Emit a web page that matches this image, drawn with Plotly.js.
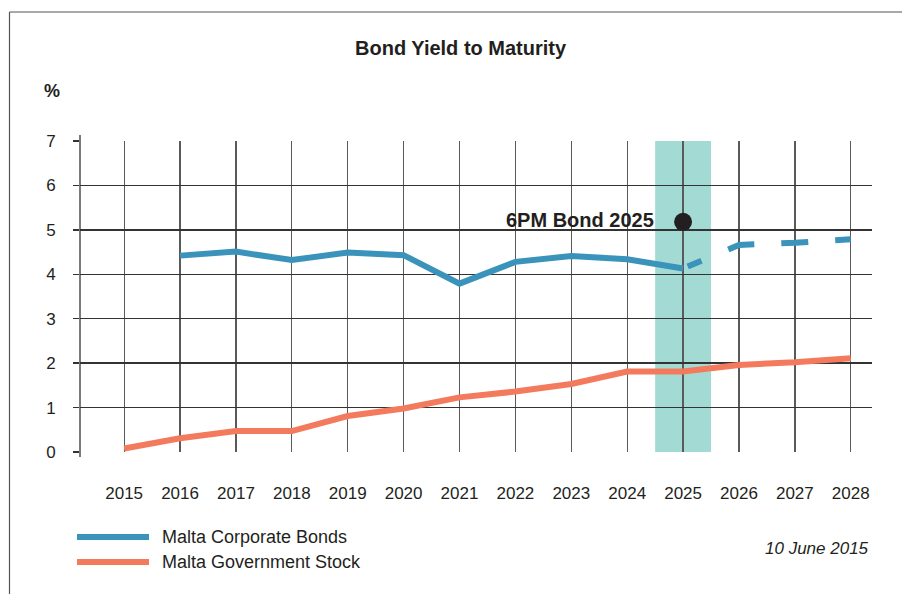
<!DOCTYPE html>
<html>
<head>
<meta charset="utf-8">
<script src="https://cdn.plot.ly/plotly-3.0.1.min.js"></script>
<style>
  html, body { margin: 0; padding: 0; background: #fff; }
  #chart { width: 902px; height: 594px; }
</style>
</head>
<body>
<div id="chart"></div>
<script>
// ---- data ----
var tickYears = [2015, 2016, 2017, 2018, 2019, 2020, 2021, 2022, 2023, 2024, 2025, 2026, 2027, 2028];
var corporateYears = [2016, 2017, 2018, 2019, 2020, 2021, 2022, 2023, 2024, 2025];
var corporateValues = [4.42, 4.51, 4.32, 4.49, 4.43, 3.79, 4.28, 4.41, 4.34, 4.13];
var projectedYears = [2025, 2026, 2027, 2028];
var projectedValues = [4.13, 4.66, 4.71, 4.79];
var governmentYears = [2015, 2016, 2017, 2018, 2019, 2020, 2021, 2022, 2023, 2024, 2025, 2026, 2027, 2028];
var governmentValues = [0.08, 0.31, 0.47, 0.47, 0.81, 0.98, 1.23, 1.36, 1.53, 1.81, 1.81, 1.96, 2.02, 2.11];
var bondYear = [2025];
var bondValue = [5.18];
var bondLabel = '6PM Bond 2025';
var seriesNames = ['Malta Corporate Bonds', 'Malta Government Stock'];
var chartTitle = 'Bond Yield to Maturity';
var unitLabel = '%';
var dateLabel = '10 June 2015';

var BLUE = '#3a93ba';
var RED = '#f47a5d';
var BAND = '#a3dbd4';
var TXT = '#231f20';
var FONT = 'Liberation Sans, Arial, Helvetica, sans-serif';

var traces = [
  {
    x: corporateYears, y: corporateValues, type: 'scatter', mode: 'lines',
    line: { color: BLUE, width: 6 }, name: seriesNames[0], hoverinfo: 'x+y'
  },
  {
    x: projectedYears, y: projectedValues, type: 'scatter', mode: 'lines',
    line: { color: BLUE, width: 6, dash: '0px,5px,15px,29px,27px,27px,27px,27px,40px' },
    name: seriesNames[0], showlegend: false, hoverinfo: 'x+y'
  },
  {
    x: governmentYears, y: governmentValues, type: 'scatter', mode: 'lines',
    line: { color: RED, width: 6 }, name: seriesNames[1], hoverinfo: 'x+y'
  },
  {
    x: bondYear, y: bondValue, type: 'scatter', mode: 'markers',
    marker: { color: TXT, size: 18 }, name: bondLabel, hoverinfo: 'x+y'
  }
];

// paper helpers: plot area spans x 80..872 px, y 141..452 px
function px(x) { return (x - 80) / 792; }
function py(y) { return (452 - y) / 311; }

var layout = {
  width: 902, height: 594,
  margin: { l: 80, r: 30, t: 141, b: 142 },
  paper_bgcolor: '#ffffff', plot_bgcolor: '#ffffff',
  showlegend: false,
  font: { family: FONT, color: TXT, size: 17 },
  xaxis: {
    range: [2014.21, 2028.38],
    tickmode: 'array', tickvals: tickYears, ticktext: tickYears.map(String),
    showgrid: true, gridcolor: '#5a5a5a', gridwidth: 1.3,
    zeroline: false, showline: false,
    ticks: 'outside', ticklen: 26, tickcolor: 'rgba(0,0,0,0)',
    tickfont: { family: FONT, size: 17, color: TXT },
    fixedrange: true
  },
  yaxis: {
    range: [0, 7],
    tickmode: 'array', tickvals: [0, 1, 2, 3, 4, 5, 6, 7],
    showgrid: true, gridcolor: '#333333', gridwidth: 1.3,
    zeroline: false, showline: false,
    ticks: 'outside', ticklen: 6, tickcolor: '#333333', tickwidth: 1.3,
    ticklabelstandoff: 14,
    tickfont: { family: FONT, size: 17, color: TXT },
    fixedrange: true
  },
  shapes: [
    // highlight band for 2025
    { type: 'rect', xref: 'x', yref: 'y', x0: 2024.5, x1: 2025.5, y0: 0, y1: 7,
      fillcolor: BAND, line: { width: 0 }, layer: 'below' },
    // y axis line
    { type: 'line', xref: 'paper', yref: 'paper', x0: 0, x1: 0, y0: py(457), y1: py(135),
      line: { color: '#333333', width: 1.3 } },
    // frame
    { type: 'line', xref: 'paper', yref: 'paper', x0: px(9.5), x1: px(9.5), y0: py(12), y1: py(620),
      line: { color: '#555555', width: 1.2 } },
    { type: 'line', xref: 'paper', yref: 'paper', x0: px(9.5), x1: px(920), y0: py(12), y1: py(12),
      line: { color: '#555555', width: 1.2 } },
    // legend swatches
    { type: 'line', xref: 'paper', yref: 'paper', x0: px(77), x1: px(149), y0: py(537), y1: py(537),
      line: { color: BLUE, width: 6 } },
    { type: 'line', xref: 'paper', yref: 'paper', x0: px(77), x1: px(149), y0: py(562), y1: py(562),
      line: { color: RED, width: 6 } }
  ],
  annotations: [
    { text: '<b>' + chartTitle + '</b>', xref: 'paper', yref: 'paper', x: px(461), y: py(48),
      xanchor: 'center', yanchor: 'middle', showarrow: false, font: { family: FONT, size: 20, color: TXT } },
    { text: '<b>' + unitLabel + '</b>', xref: 'paper', yref: 'paper', x: px(52), y: py(91),
      xanchor: 'center', yanchor: 'middle', showarrow: false, font: { family: FONT, size: 18, color: TXT } },
    { text: '<b>' + bondLabel + '</b>', xref: 'x', yref: 'y', x: bondYear[0], y: bondValue[0],
      xanchor: 'right', yanchor: 'middle', xshift: -27, yshift: 2, showarrow: false,
      font: { family: FONT, size: 20, color: TXT } },
    { text: seriesNames[0], xref: 'paper', yref: 'paper', x: px(160), y: py(537),
      xanchor: 'left', yanchor: 'middle', showarrow: false, font: { family: FONT, size: 18, color: TXT } },
    { text: seriesNames[1], xref: 'paper', yref: 'paper', x: px(160), y: py(562),
      xanchor: 'left', yanchor: 'middle', showarrow: false, font: { family: FONT, size: 18, color: TXT } },
    { text: '<i>' + dateLabel + '</i>', xref: 'paper', yref: 'paper', x: px(871), y: py(548),
      xanchor: 'right', yanchor: 'middle', showarrow: false, font: { family: FONT, size: 17, color: TXT } }
  ]
};

Plotly.newPlot('chart', traces, layout, { displayModeBar: false, staticPlot: true });
</script>
</body>
</html>
